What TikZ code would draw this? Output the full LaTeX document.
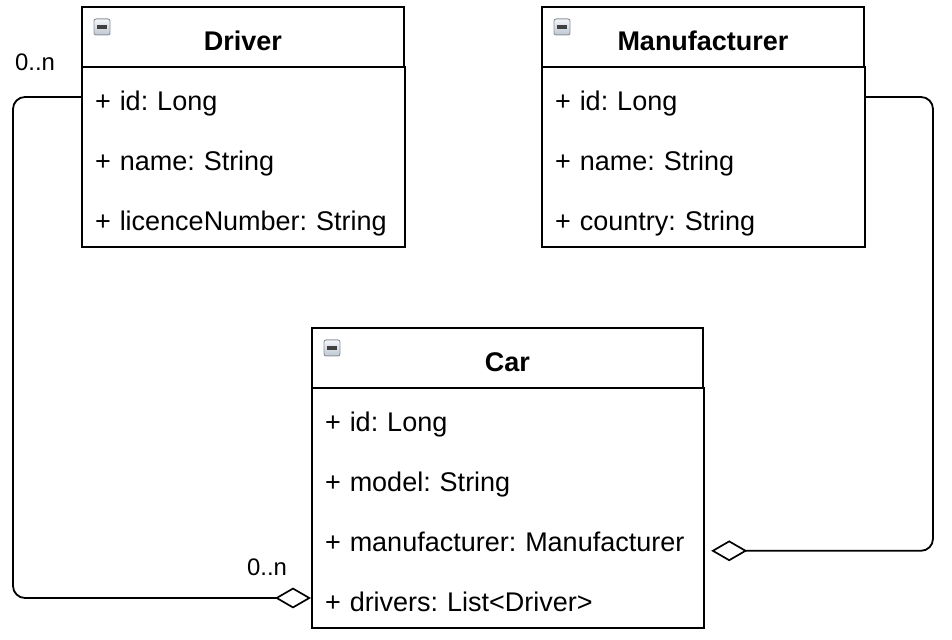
\documentclass[tikz,border=0pt]{standalone}
\usepackage{fontspec}
\setmainfont{Liberation Sans}
\usetikzlibrary{positioning,arrows.meta}
\definecolor{icontop}{HTML}{F4F6F9}
\definecolor{iconbot}{HTML}{BFC7D2}
\definecolor{iconedge}{HTML}{8C949E}

\tikzset{
  umlline/.style={line width=1.3pt},
  umlhead/.style={draw, umlline, outer sep=0pt, inner sep=0pt, minimum width=#1,
    minimum height=1.5cm, anchor=north west, text height=0.66cm, text depth=0pt,
    font=\fontsize{19.2}{23}\selectfont\bfseries},
  umlrow/.style={outer sep=0pt, inner xsep=0.35cm, inner ysep=0pt, text width=#1,
    align=left, minimum height=1.5cm, text height=0.66cm, text depth=0pt,
    font=\fontsize{19.2}{23}\selectfont\frenchspacing},
  umlicon/.style={draw=iconedge, line width=0.7pt, top color=icontop, bottom color=iconbot,
    rounded corners=1.5pt, minimum size=0.4cm, inner sep=0pt,
    path picture={\draw[line width=2.6pt, black!75] ([xshift=-0.12cm]path picture bounding box.center)
      -- ([xshift=0.12cm]path picture bounding box.center);}},
  assoc/.style={umlline, rounded corners=0.3cm, -{Diamond[open, length=0.9cm, width=0.52cm, line width=1.2pt]}},
  mult/.style={font=\fontsize{17}{20}\selectfont, inner sep=0pt}
}

\begin{document}
\begin{tikzpicture}
  \useasboundingbox (0,0) rectangle (23.8,16);
  % Driver
  \node[umlhead=8.05cm] (drvhead) at (2.05,15.825) {Driver};
  \node[umlrow=7.4cm, below=0pt of drvhead] (drvid) {+ id: Long};
  \node[umlrow=7.4cm, below=0pt of drvid] (drvname) {+ name: String};
  \node[umlrow=7.4cm, below=0pt of drvname] (drvlic) {+ licenceNumber: String};
  \draw[umlline] (drvhead.south west) rectangle (drvlic.south east);
  % Manufacturer
  \node[umlhead=8.05cm] (mfrhead) at (13.55,15.825) {Manufacturer};
  \node[umlrow=7.4cm, below=0pt of mfrhead] (mfrid) {+ id: Long};
  \node[umlrow=7.4cm, below=0pt of mfrid] (mfrname) {+ name: String};
  \node[umlrow=7.4cm, below=0pt of mfrname] (mfrcountry) {+ country: String};
  \draw[umlline] (mfrhead.south west) rectangle (mfrcountry.south east);
  % Car
  \node[umlhead=9.775cm] (carhead) at (7.8,7.8) {Car};
  \node[umlrow=9.125cm, below=0pt of carhead] (carid) {+ id: Long};
  \node[umlrow=9.125cm, below=0pt of carid] (carmodel) {+ model: String};
  \node[umlrow=9.125cm, below=0pt of carmodel] (carmfr) {+ manufacturer: Manufacturer};
  \node[umlrow=9.125cm, below=0pt of carmfr] (cardrv) {+ drivers: List<Driver>};
  \draw[umlline] (carhead.south west) rectangle (cardrv.south east);
  \foreach \c in {drv,mfr,car}
    \node[umlicon] (\c icon) at ([shift={(0.5,-0.5)}]\c head.north west) {};

  \coordinate (mfrend) at ([xshift=0.18cm,yshift=-0.32cm]carmfr.east);
  \draw[assoc] (drvid.west) -- ++(-1.7,0) |- (cardrv.west);
  \draw[assoc] (mfrid.east) -- ++(1.7,0) |- (mfrend);
  \node[mult] (drvmult) at ([shift={(-1.15,0.88)}]drvid.west) {0..n};
  \node[mult] (carmult) at ([shift={(-1.1,0.78)}]cardrv.west) {0..n};
\end{tikzpicture}
\end{document}
